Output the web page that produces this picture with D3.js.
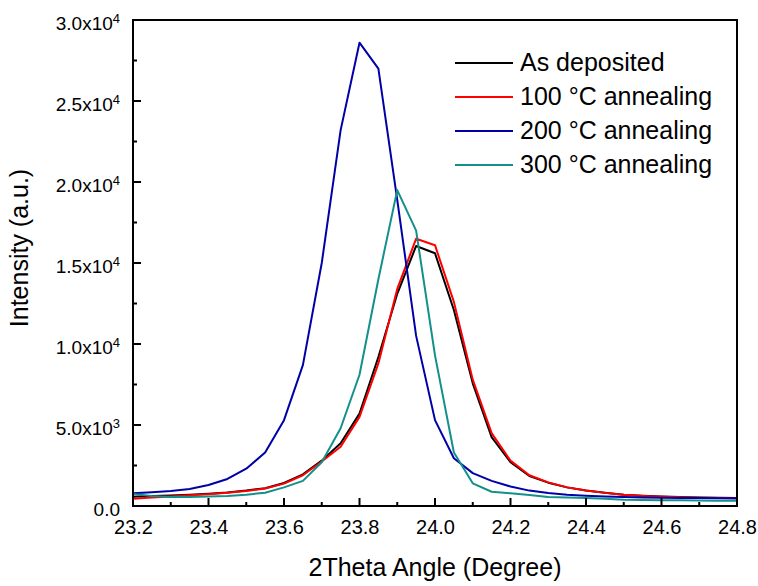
<!DOCTYPE html>
<html>
<head>
<meta charset="utf-8">
<script src="https://cdn.jsdelivr.net/npm/d3@7"></script>
<style>
  body { margin: 0; background: #fff; }
  text { font-family: "Liberation Sans", Arial, sans-serif; fill: #000; }
</style>
</head>
<body>
<div class="canvas"></div>
<script>
// 2theta positions (deg)
const angles = [23.2, 23.25, 23.3, 23.35, 23.4, 23.45, 23.5, 23.55, 23.6, 23.65, 23.7, 23.75, 23.8, 23.85, 23.9, 23.95,
  24.0, 24.05, 24.1, 24.15, 24.2, 24.25, 24.3, 24.35, 24.4, 24.45, 24.5, 24.55, 24.6, 24.65, 24.7, 24.75, 24.8];

// intensities
const asDeposited = [570, 610, 650, 700, 760, 840, 950, 1100, 1420, 1950, 2800, 3870, 5700, 9200, 13100, 16050,
  15600, 12100, 7570, 4250, 2700, 1850, 1440, 1150, 950, 820, 700, 640, 590, 560, 530, 510, 500];
const anneal100 = [450, 520, 590, 660, 730, 820, 930, 1080, 1380, 1900, 2750, 3660, 5500, 8800, 13400, 16500,
  16100, 12600, 7800, 4500, 2800, 1900, 1460, 1150, 950, 810, 690, 620, 570, 540, 510, 490, 470];
const anneal200 = [780, 850, 930, 1050, 1300, 1670, 2300, 3300, 5300, 8700, 15000, 23200, 28600, 27000, 18900, 10500,
  5300, 2950, 2030, 1550, 1200, 950, 800, 700, 640, 590, 560, 530, 510, 500, 490, 480, 480];
const anneal300 = [740, 620, 560, 560, 580, 620, 700, 820, 1150, 1550, 2700, 4800, 8100, 14000, 19500, 17000,
  9300, 3300, 1400, 880, 780, 680, 560, 520, 500, 450, 380, 370, 360, 350, 340, 330, 330];

const seriesNames = ['As deposited', '100 \u00B0C annealing', '200 \u00B0C annealing', '300 \u00B0C annealing'];
const seriesColors = ['#000000', '#ff0000', '#0000a8', '#13908c'];

const xTicks = [23.2, 23.4, 23.6, 23.8, 24.0, 24.2, 24.4, 24.6, 24.8];
const xMinor = [23.3, 23.5, 23.7, 23.9, 24.1, 24.3, 24.5, 24.7];
const yTicks = [0, 5000, 10000, 15000, 20000, 25000, 30000];
const yMinor = [2500, 7500, 12500, 17500, 22500, 27500];

const svg = d3.select('.canvas')
  .append('svg')
  .attr('width', 758)
  .attr('height', 586);

const margin = { top: 20, right: 21, bottom: 80, left: 133 };
const graphWidth = 758 - margin.left - margin.right;
const graphHeight = 586 - margin.top - margin.bottom;

const graph = svg.append('g')
  .attr('transform', `translate(${margin.left}, ${margin.top})`);

const x = d3.scaleLinear().domain([23.2, 24.8]).range([0, graphWidth]);
const y = d3.scaleLinear().domain([0, 30000]).range([graphHeight, 0]);

// lines
const line = d3.line()
  .x((d, i) => x(angles[i]))
  .y(d => y(d));

[asDeposited, anneal100, anneal200, anneal300].forEach((vals, i) => {
  graph.append('path')
    .datum(vals)
    .attr('fill', 'none')
    .attr('stroke', seriesColors[i])
    .attr('stroke-width', 2)
    .attr('stroke-linejoin', 'round')
    .attr('d', line);
});

// x axis (labels only, ticks drawn below)
const xAxisGroup = graph.append('g')
  .attr('transform', `translate(0, ${graphHeight})`)
  .call(d3.axisBottom(x).tickValues(xTicks).tickSize(0).tickPadding(14).tickFormat(d3.format('.1f')));
xAxisGroup.select('.domain').remove();
xAxisGroup.selectAll('text').attr('font-size', 20);

// y axis
const yAxisGroup = graph.append('g')
  .call(d3.axisLeft(y).tickValues(yTicks).tickSize(0).tickPadding(13).tickFormat(''));
yAxisGroup.select('.domain').remove();

yAxisGroup.selectAll('.tick text')
  .attr('font-size', 19)
  .attr('dy', '0.5em')
  .each(function (d) {
    const t = d3.select(this);
    if (d === 0) { t.text('0.0'); return; }
    const exp = Math.floor(Math.log10(d));
    const mant = (d / Math.pow(10, exp)).toFixed(1);
    t.append('tspan').text(`${mant}x10`);
    t.append('tspan').attr('font-size', 13).attr('dy', '-0.55em').text(exp);
  });

// inward ticks
const tickG = graph.append('g').attr('stroke', '#000').attr('stroke-width', 2);
tickG.selectAll('line.xmaj').data(xTicks).join('line')
  .attr('x1', d => x(d)).attr('x2', d => x(d))
  .attr('y1', graphHeight).attr('y2', graphHeight - 8);
tickG.selectAll('line.xmin').data(xMinor).join('line')
  .attr('x1', d => x(d)).attr('x2', d => x(d))
  .attr('y1', graphHeight).attr('y2', graphHeight - 4);
tickG.selectAll('line.ymaj').data(yTicks).join('line')
  .attr('y1', d => y(d)).attr('y2', d => y(d))
  .attr('x1', 0).attr('x2', 8);
tickG.selectAll('line.ymin').data(yMinor).join('line')
  .attr('y1', d => y(d)).attr('y2', d => y(d))
  .attr('x1', 0).attr('x2', 4);

// frame
graph.append('rect')
  .attr('width', graphWidth)
  .attr('height', graphHeight)
  .attr('fill', 'none')
  .attr('stroke', '#000')
  .attr('stroke-width', 2);

// axis titles
svg.append('text')
  .attr('x', margin.left + graphWidth / 2)
  .attr('y', 576)
  .attr('text-anchor', 'middle')
  .attr('font-size', 25)
  .text('2Theta Angle (Degree)');

svg.append('text')
  .attr('transform', 'translate(28, 248) rotate(-90)')
  .attr('text-anchor', 'middle')
  .attr('font-size', 25)
  .text('Intensity (a.u.)');

// legend
const legend = svg.append('g').attr('transform', 'translate(455, 63)');
seriesNames.forEach((name, i) => {
  const row = legend.append('g').attr('transform', `translate(0, ${i * 34})`);
  row.append('line')
    .attr('x1', 0).attr('x2', 58)
    .attr('stroke', seriesColors[i])
    .attr('stroke-width', 2);
  row.append('text')
    .attr('x', 65)
    .attr('y', 8)
    .attr('font-size', 25)
    .text(name);
});
</script>
</body>
</html>
